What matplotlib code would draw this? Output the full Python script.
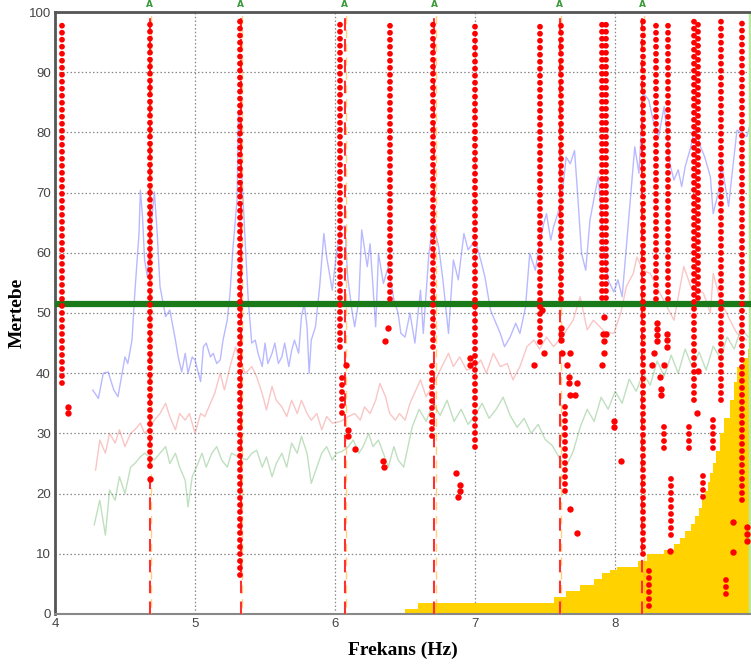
import numpy as np
import matplotlib.pyplot as plt

# blue trace
blue_x = [4.27, 4.31, 4.345, 4.38, 4.42, 4.45, 4.48, 4.50, 4.52, 4.55, 4.57, 4.60, 4.61, 4.625, 4.64,
          4.66, 4.68, 4.71, 4.73, 4.75, 4.79, 4.82, 4.86, 4.88, 4.905, 4.93, 4.95, 4.98, 5.00, 5.04,
          5.06, 5.08, 5.11, 5.13, 5.155, 5.18, 5.20, 5.23, 5.25, 5.27, 5.30, 5.31, 5.33, 5.36, 5.38,
          5.405, 5.43, 5.45, 5.48, 5.50, 5.52, 5.55, 5.57, 5.595, 5.62, 5.64, 5.67, 5.69, 5.71, 5.74,
          5.76, 5.78, 5.80, 5.815, 5.83, 5.86, 5.89, 5.92, 5.94, 5.98, 6.01, 6.04, 6.07, 6.09, 6.12,
          6.14, 6.17, 6.19, 6.23, 6.25, 6.29, 6.31, 6.345, 6.38, 6.42, 6.45, 6.47, 6.50, 6.535, 6.57,
          6.61, 6.63, 6.67, 6.70, 6.74, 6.77, 6.81, 6.845, 6.88, 6.92, 6.95, 7.00, 7.04, 7.07, 7.11,
          7.14, 7.18, 7.21, 7.25, 7.29, 7.32, 7.36, 7.39, 7.43, 7.46, 7.49, 7.51, 7.54, 7.56, 7.59,
          7.62, 7.65, 7.68, 7.71, 7.73, 7.76, 7.79, 7.82, 7.86, 7.88, 7.92, 7.95, 7.99, 8.02, 8.05,
          8.08, 8.12, 8.14, 8.17, 8.20, 8.24, 8.27, 8.31, 8.35, 8.37, 8.39, 8.42, 8.45, 8.475, 8.50,
          8.54, 8.57, 8.61, 8.64, 8.68, 8.70, 8.74, 8.76, 8.81, 8.83, 8.87, 8.905, 8.94, 8.96]
blue_y = [37.2, 35.8, 40, 40.2, 37.2, 36.1, 40, 42.7, 41.6, 45.5, 53.3, 63.2, 70.4, 66, 58.8,
          56, 63, 70.1, 63.2, 54.4, 49.4, 50.5, 45.5, 42.7, 40.2, 43.3, 40, 42.7, 42.2, 38.6,
          44.4, 45, 42.7, 43.3, 41.6, 42.2, 45.5, 48.8, 53.3, 60.5, 68.8, 83.7, 75, 61, 52.2,
          45, 45.5, 43.3, 41.1, 45, 41.6, 43.3, 45, 41.6, 42.7, 45, 41.1, 43.8, 45.5, 43.3,
          49.4, 51.6, 47.7, 40, 45.5, 47.7, 54.4, 63.2, 59.3, 53.8, 59.9, 64, 64.5, 56, 50.5,
          47.7, 52.2, 63.8, 57.7, 61.5, 47.7, 59.9, 54.9, 57.7, 52.2, 50, 46.6, 46, 50, 45,
          53.8, 46.6, 59.9, 64.9, 61, 55.5, 46.6, 58.8, 55.5, 63.2, 60.5, 62.1, 58.8, 56, 50.5,
          48.8, 46.6, 44.4, 46, 48.3, 46.6, 51, 59.9, 57.1, 61.5, 64.9, 66.5, 62.1, 64.3, 66.5,
          69.3, 75.9, 74.8, 77, 70.4, 59.9, 57.1, 65.4, 70.4, 72.6, 60.5, 55.5, 53.5, 55.5, 52.7,
          61, 72.1, 77.6, 73.2, 86.5, 85.4, 82.1, 79.3, 84.3, 79.8, 74.8, 72.1, 73.8, 71, 74.3,
          77.6, 81, 77.6, 75.9, 72.6, 66.5, 70.4, 74.8, 67.7, 72.1, 80.4, 79.8, 79.3, 81]

# pink trace
pink_x = [4.29, 4.32, 4.36, 4.39, 4.43, 4.46, 4.50, 4.54, 4.57, 4.61, 4.64, 4.68, 4.71, 4.75, 4.79,
          4.82, 4.86, 4.89, 4.93, 4.96, 5.00, 5.04, 5.07, 5.11, 5.14, 5.18, 5.21, 5.25, 5.29, 5.32,
          5.36, 5.405, 5.44, 5.48, 5.51, 5.55, 5.58, 5.62, 5.655, 5.69, 5.73, 5.76, 5.80, 5.83, 5.87,
          5.905, 5.94, 5.98, 6.04, 6.095, 6.14, 6.18, 6.21, 6.25, 6.29, 6.32, 6.36, 6.39, 6.43, 6.46,
          6.50, 6.535, 6.61, 6.65, 6.70, 6.75, 6.81, 6.845, 6.89, 6.94, 7.00, 7.04, 7.08, 7.13, 7.18,
          7.23, 7.27, 7.32, 7.37, 7.42, 7.46, 7.51, 7.56, 7.62, 7.70, 7.75, 7.80, 7.845, 7.92, 7.99,
          8.04, 8.08, 8.13, 8.155, 8.20, 8.25, 8.32, 8.42, 8.49, 8.54, 8.63, 8.68, 8.70, 8.75, 8.82,
          8.87, 8.94]
pink_y = [23.9, 28.9, 26.7, 30, 28.4, 30.6, 27.8, 30, 30.6, 31.7, 30, 31, 32.2, 33.3, 35,
          32.8, 30.6, 33.3, 32.2, 33.3, 30, 33.3, 32.8, 35, 36.6, 40, 37.2, 41.1, 44.4, 42,
          40, 41.1, 39.4, 36.6, 33.9, 37.8, 35.5, 34.4, 32.8, 35.5, 33.3, 35.5, 33.3, 32.2, 33.3,
          30.6, 32.8, 31.7, 32, 32.8, 33.3, 32.2, 34.4, 33.3, 35.5, 38.3, 36.1, 33.3, 32.2, 33.3,
          32.2, 35, 38.9, 36.1, 38, 40.5, 43.3, 41.1, 42.7, 40.5, 41, 42.2, 40, 43.3, 41.1,
          41.6, 38.9, 41.1, 44.4, 45.5, 44, 46, 44.4, 46, 48.8, 52.7, 47.2, 48.8, 47, 46.6,
          50, 54.4, 56.6, 59.3, 57, 56.6, 53.3, 48.8, 57.7, 54.4, 53.3, 50, 56.6, 52.2, 48.8,
          46.6, 45.5]

# green trace
green_x = [4.28, 4.32, 4.36, 4.39, 4.43, 4.46, 4.50, 4.54, 4.57, 4.61, 4.64, 4.68, 4.71, 4.75, 4.79,
           4.82, 4.86, 4.89, 4.93, 4.95, 4.98, 5.01, 5.05, 5.08, 5.12, 5.155, 5.19, 5.23, 5.26, 5.32,
           5.37, 5.405, 5.44, 5.48, 5.51, 5.55, 5.58, 5.62, 5.655, 5.69, 5.73, 5.76, 5.80, 5.83, 5.87,
           5.905, 5.94, 5.98, 6.01, 6.05, 6.095, 6.13, 6.17, 6.20, 6.24, 6.27, 6.31, 6.345, 6.38, 6.42,
           6.45, 6.49, 6.55, 6.60, 6.65, 6.70, 6.75, 6.80, 6.85, 6.90, 6.95, 7.00, 7.05, 7.10, 7.15,
           7.20, 7.25, 7.30, 7.35, 7.40, 7.45, 7.50, 7.55, 7.60, 7.65, 7.70, 7.75, 7.80, 7.85, 7.90,
           7.95, 8.00, 8.05, 8.10, 8.15, 8.20, 8.25, 8.30, 8.35, 8.40, 8.45, 8.50, 8.55, 8.60, 8.65,
           8.70, 8.75, 8.80, 8.85, 8.90, 8.95]
green_y = [14.8, 18.9, 13.1, 20.6, 18.9, 22.8, 20, 24.4, 25, 26.1, 26.7, 26, 25.6, 26.7, 27.8,
           25, 26.7, 24.4, 22.2, 17.8, 22.8, 24.4, 26.7, 24.4, 26.7, 27.8, 25.6, 24.4, 26.7, 26,
           25.6, 26.7, 27.2, 24.4, 26.1, 22.8, 25, 26.7, 24.4, 28.4, 26.7, 29.5, 26.7, 21.7, 24.4,
           26.7, 27.8, 25.6, 26.7, 27, 27.8, 28.9, 26.7, 27.8, 30, 27.8, 28.9, 26.7, 24.4, 27.8,
           25.6, 24.4, 31, 34, 32, 35, 33, 35.5, 32, 34, 31.5, 33, 35, 32.5, 34,
           36, 33, 31, 32.5, 30, 31.5, 29, 28, 26, 24.5, 27, 31, 34, 32, 36,
           34, 37, 35, 39, 37, 40, 38, 42, 39.5, 43, 40, 44, 41, 43.5, 40.5,
           44.5, 42.5, 46, 44, 47.5, 46]

# yellow cumulative steps
step_x = [6.50, 6.59, 7.56, 7.65, 7.75, 7.85, 7.905, 7.96, 8.016, 8.16, 8.23, 8.35, 8.42, 8.46,
          8.50, 8.54, 8.57, 8.60, 8.62, 8.64, 8.66, 8.68, 8.70, 8.72, 8.75, 8.78, 8.82, 8.85,
          8.87, 8.91, 8.95, 8.97]
step_h = [0.8, 1.8, 2.9, 3.8, 4.8, 5.8, 6.75, 7.3, 7.85, 8.8, 9.9, 10.6, 11.6, 12.7,
          13.8, 15.0, 16.2, 17.6, 18.9, 20.5, 22.0, 23.5, 25.0, 27.0, 30.0, 32.5, 35.5, 38.5,
          41.0, 42.5, 44.0, 44.0]

# dashed markers labelled "A"
mark_x = [4.675, 5.325, 6.07, 6.71, 7.605, 8.195]

# red dot columns (x, bottom, top)
col_x = [4.05, 4.68, 5.32, 6.035, 6.39, 6.70, 7.00, 7.46, 7.61, 7.905, 7.935, 8.20, 8.29, 8.38,
         8.565, 8.595, 8.755, 8.905,
         6.05, 6.69, 7.645, 8.24, 8.35, 8.40, 8.53, 8.70, 8.79, 8.63]
col_lo = [38.4, 24.5, 6.4, 44.4, 52.3, 44.4, 27.7, 45.2, 52.3, 52.5, 52.5, 10.0, 52.3, 52.3,
          35.5, 52.5, 35.5, 19.0,
          33.4, 29.5, 20.5, 1.4, 27.6, 13.1, 27.6, 27.6, 3.3, 19.5]
col_hi = [98.6] * 18 + [39.4, 41.4, 34.5, 7.5, 31.4, 23.4, 31.4, 32.5, 6.5, 23.4]

# isolated red dots
dot_x = [4.09, 4.095, 4.675, 6.08, 6.095, 6.095, 6.14, 6.38, 6.36, 6.345, 6.35, 6.86, 6.89, 6.89,
         6.88, 6.96, 6.96, 7.48, 7.49, 7.42, 7.615, 7.615, 7.615, 7.62, 7.675, 7.655, 7.67, 7.67,
         7.73, 7.675, 7.71, 7.675, 7.73, 7.92, 7.91, 7.935, 7.92, 7.92, 7.905, 7.99, 7.99, 8.04,
         8.30, 8.30, 8.30, 8.30, 8.275, 8.26, 8.32, 8.33, 8.33, 8.35, 8.37, 8.37, 8.37, 8.39,
         8.59, 8.585, 8.84, 8.84, 8.94, 8.94, 8.94]
dot_y = [34.4, 33.4, 22.4, 41.4, 30.6, 29.5, 27.4, 47.5, 45.4, 25.4, 24.4, 23.4, 21.4, 20.4,
         19.4, 42.5, 41.4, 50.5, 43.4, 41.4, 47.5, 46.5, 45.5, 43.4, 43.4, 41.4, 39.4, 38.4,
         38.3, 36.4, 36.4, 17.4, 13.4, 49.4, 46.5, 46.5, 45.4, 43.4, 41.4, 32, 31, 25.4,
         48.4, 47.4, 46.4, 45.4, 43.4, 41.4, 39.4, 37.4, 36.4, 41.4, 46.5, 45.5, 44.4, 10.4,
         40.4, 33.4, 15.3, 10.3, 14.5, 13.3, 12.1]

threshold = 51.5

fig = plt.figure(figsize=(7.51, 6.67), dpi=100)
ax = fig.add_axes([0.0732, 0.0795, 0.9268, 0.9025])

ax.set_xlim(4, 8.97)
ax.set_ylim(0, 100)

ax.fill_between(step_x, 0, step_h, step='post', color='#ffd200', lw=0, zorder=1)

ax.plot(blue_x, blue_y, color='#8080ff', alpha=0.55, lw=1, zorder=2)
ax.plot(pink_x, pink_y, color='#f07070', alpha=0.4, lw=1, zorder=2)
ax.plot(green_x, green_y, color='#60b060', alpha=0.4, lw=1, zorder=2)

ax.axvline(8.965, color='#b8e8a0', lw=2.5, zorder=2)

for x in mark_x:
    ax.plot([x + 0.008, x + 0.008], [0, 100], color='#ffb030', lw=1, alpha=0.6,
            ls=(5, (6, 4)), zorder=3)
    ax.plot([x, x], [0, 100], color='#ff3030', lw=1.5, ls=(0, (6, 4)), zorder=3)
    ax.text(x, 101.2, 'A', color='#3a9a3a', fontsize=6.5, fontweight='bold',
            ha='center', va='center', clip_on=False)

ax.axhline(threshold, color='#1a7a1a', lw=4.5, zorder=4)

for x, lo, hi in zip(col_x, col_lo, col_hi):
    ax.plot([x, x], [lo, hi], color='#ff0000', lw=4.2, solid_capstyle='round',
            dash_capstyle='round', ls=(0, (0.001, 1.2)), zorder=5)
ax.plot(dot_x, dot_y, 'o', color='#ff0000', ms=4.6, mew=0, zorder=5)

ax.set_xticks([4, 5, 6, 7, 8])
ax.set_yticks(range(0, 101, 10))
ax.grid(True, color='#888888', ls=(0, (1.2, 1.8)), lw=0.9)
ax.set_axisbelow(True)
ax.tick_params(length=0, labelsize=9.5, labelcolor='#444444', pad=3)
for lab in ax.get_xticklabels() + ax.get_yticklabels():
    lab.set_family('Liberation Sans')

for side in ['left', 'top']:
    ax.spines[side].set_color('#555555')
    ax.spines[side].set_linewidth(2)
ax.spines['bottom'].set_color('#888888')
ax.spines['bottom'].set_linewidth(1.5)
ax.spines['right'].set_visible(False)

ax.set_xlabel('Frekans (Hz)', family='Liberation Serif', fontweight='bold', fontsize=14, labelpad=8)
ax.set_ylabel('Mertebe', family='Liberation Serif', fontweight='bold', fontsize=14, labelpad=2)

fig.savefig('out.png', dpi=100)
